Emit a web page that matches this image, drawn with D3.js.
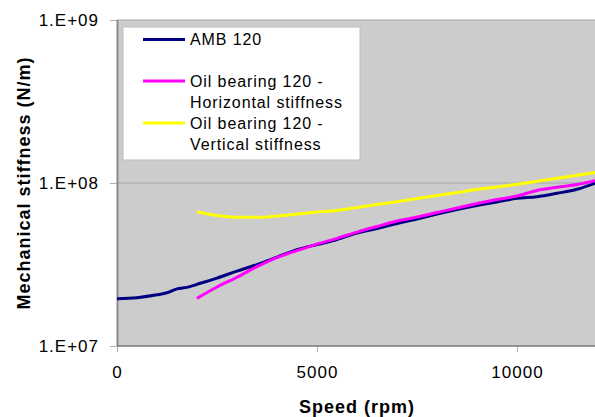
<!DOCTYPE html>
<html>
<head>
<meta charset="utf-8">
<script src="https://cdn.jsdelivr.net/npm/d3@7"></script>
<style>
body { margin: 0; background: #fff; }
text { font-family: "Liberation Sans", Arial, sans-serif; }
</style>
</head>
<body>
<svg id="StiffnessChart"></svg>
<script>
// speeds (rpm) and stiffness values (N/m)
var ambSpeed = [0,500,1000,1250,1500,1750,2000,2500,3000,3500,4000,4500,5000,5500,6000,6500,7000,7500,8000,8500,9000,9500,10000,10500,11000,11500,12000];
var ambStiffness = [1.95e7,1.98e7,2.06e7,2.12e7,2.24e7,2.29e7,2.39e7,2.61e7,2.88e7,3.16e7,3.51e7,3.9e7,4.19e7,4.5e7,4.93e7,5.26e7,5.64e7,6.01e7,6.45e7,6.88e7,7.28e7,7.65e7,8.05e7,8.24e7,8.65e7,9.15e7,1.007e8];

var oilSpeed = [2000,2500,3000,3500,4000,4500,5000,5500,6000,6500,7000,7500,8000,8500,9000,9500,10000,10500,11000,11500,12000];
var oilHorizontal = [1.96e7,2.3e7,2.64e7,3.07e7,3.49e7,3.85e7,4.22e7,4.57e7,5.0e7,5.41e7,5.84e7,6.18e7,6.59e7,7.03e7,7.48e7,7.92e7,8.32e7,9.0e7,9.41e7,9.79e7,1.04e8];
var oilVertical = [6.67e7,6.32e7,6.16e7,6.16e7,6.28e7,6.45e7,6.64e7,6.78e7,7.08e7,7.38e7,7.68e7,8.03e7,8.38e7,8.74e7,9.12e7,9.45e7,9.82e7,1.024e8,1.069e8,1.115e8,1.163e8];

var xTicks = [0,5000,10000];
var yTicks = [1e7,1e8,1e9];
var yTickLabels = ["1.E+07","1.E+08","1.E+09"];

var legendNames = [["AMB 120"],["Oil bearing 120 -","Horizontal stiffness"],["Oil bearing 120 -","Vertical stiffness"]];
var seriesColors = ["#000080","#ff00ff","#ffff00"];

var screen = {width:595, height:417};
var margins = {left:117, right:-2, top:20, bottom:71};
var graph = {
    width:screen.width-margins.left-margins.right,
    height:screen.height-margins.top-margins.bottom
};

var svg = d3.select("#StiffnessChart")
    .attr("width",screen.width)
    .attr("height",screen.height);

svg.append("defs").append("clipPath")
    .attr("id","plotClip")
    .append("rect")
    .attr("width",graph.width)
    .attr("height",graph.height+2);

var target = svg.append("g")
    .attr("transform","translate("+margins.left+","+margins.top+")");

var xScale = d3.scaleLinear()
    .domain([0,12000])
    .range([0,graph.width]);

var yScale = d3.scaleLog()
    .domain([1e7,1e9])
    .range([graph.height,0]);

// plot background
target.append("rect")
    .attr("width",graph.width)
    .attr("height",graph.height)
    .attr("fill","#cccccc");

// gridlines
target.selectAll(".grid")
    .data(yTicks.slice(1))
    .enter()
    .append("line")
    .attr("x1",0)
    .attr("x2",graph.width)
    .attr("y1",function(d){ return yScale(d); })
    .attr("y2",function(d){ return yScale(d); })
    .attr("stroke","#a6a6a6")
    .attr("stroke-width",1);

// axes
var yAxis = d3.axisLeft(yScale)
    .tickValues(yTicks)
    .tickSize(7)
    .tickPadding(11)
    .tickFormat(function(d,i){ return yTickLabels[i]; });

var xAxis = d3.axisBottom(xScale)
    .tickValues(xTicks)
    .tickSize(6)
    .tickPadding(8)
    .tickFormat(d3.format("d"));

var yG = target.append("g").call(yAxis);
yG.select(".domain").remove();
yG.selectAll("line").attr("stroke","#b0b0b0");

var xG = target.append("g")
    .attr("transform","translate(0,"+graph.height+")")
    .call(xAxis);
xG.select(".domain").remove();
xG.selectAll("line").attr("stroke","#b0b0b0");

[yG,xG].forEach(function(g){
    g.selectAll("text")
    .attr("fill","#000")
    .style("font-size","17px")
    .style("letter-spacing","1px")
    .style("font-family","'Liberation Sans', Arial, sans-serif");
});
xG.selectAll("text").attr("dy","1.05em");

target.append("line")
    .attr("x1",0.5).attr("x2",0.5)
    .attr("y1",0).attr("y2",graph.height)
    .attr("stroke","#8c8c8c")
    .attr("stroke-width",2);

target.append("line")
    .attr("x1",0).attr("x2",graph.width)
    .attr("y1",graph.height).attr("y2",graph.height)
    .attr("stroke","#777777")
    .attr("stroke-width",1.5);

// series
var series = [
    {speed:ambSpeed, values:ambStiffness},
    {speed:oilSpeed, values:oilHorizontal},
    {speed:oilSpeed, values:oilVertical}
];

var line = d3.line()
    .x(function(d){ return xScale(d[0]); })
    .y(function(d){ return yScale(d[1]); })
    .curve(d3.curveMonotoneX);

var plot = target.append("g").attr("clip-path","url(#plotClip)");

plot.selectAll(".series")
    .data(series)
    .enter()
    .append("path")
    .attr("d",function(s){ return line(d3.zip(s.speed,s.values)); })
    .attr("fill","none")
    .attr("stroke",function(s,i){ return seriesColors[i]; })
    .attr("stroke-width",3)
    .attr("stroke-linejoin","round");

// legend
var legend = target.append("g")
    .attr("transform","translate(6,7)");

legend.append("rect")
    .attr("width",237)
    .attr("height",133)
    .attr("fill","#ffffff")
    .attr("stroke","#bdbdbd")
    .attr("stroke-width",1);

var legendY = [12.5,54,96];

var entries = legend.selectAll(".entry")
    .data(legendNames)
    .enter()
    .append("g")
    .attr("transform",function(d,i){ return "translate(0,"+legendY[i]+")"; });

entries.append("line")
    .attr("x1",20).attr("x2",62)
    .attr("y1",0).attr("y2",0)
    .attr("stroke",function(d,i){ return seriesColors[i]; })
    .attr("stroke-width",3);

entries.each(function(names){
    d3.select(this).selectAll("text")
    .data(names)
    .enter()
    .append("text")
    .attr("x",67)
    .attr("y",function(d,j){ return 5.5+j*21; })
    .text(function(d){ return d; })
    .style("font-size","16px")
    .style("letter-spacing","0.9px");
});

// axis titles
svg.append("text")
    .text("Speed (rpm)")
    .attr("text-anchor","middle")
    .attr("x",margins.left+graph.width/2)
    .attr("y",413)
    .style("font-size","18px")
    .style("font-weight","bold")
    .style("letter-spacing","1px");

svg.append("g")
    .attr("transform","translate(30,"+(margins.top+graph.height/2)+")")
    .append("text")
    .text("Mechanical stiffness (N/m)")
    .attr("text-anchor","middle")
    .attr("transform","rotate(270)")
    .style("font-size","18px")
    .style("font-weight","bold")
    .style("letter-spacing","1px");
</script>
</body>
</html>
